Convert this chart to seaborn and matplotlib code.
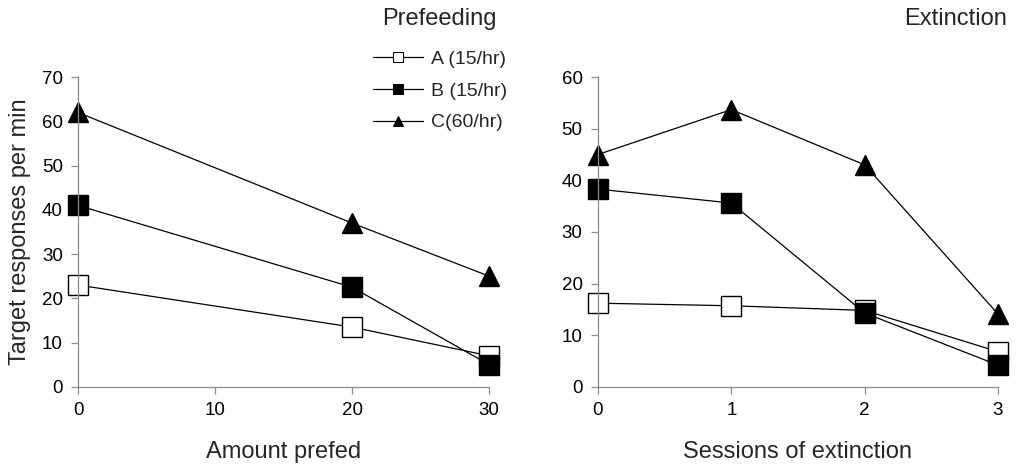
import matplotlib
matplotlib.use("Agg")
import matplotlib.pyplot as plt
import seaborn as sns
import pandas as pd

# prefeeding panel
prefed_amount = [0, 20, 30]
prefed_a = [23, 13.5, 7]
prefed_b = [41, 22.5, 5]
prefed_c = [62, 37, 25]

# extinction panel
ext_sessions = [0, 1, 2, 3]
ext_a = [16.2, 15.7, 14.8, 6.8]
ext_b = [38.3, 35.6, 14.3, 4.2]
ext_c = [45, 53.7, 43, 14.1]

groups = ["A (15/hr)", "B (15/hr)", "C(60/hr)"]


def long_table(x, series):
    rows = []
    for name, vals in zip(groups, series):
        for xi, yi in zip(x, vals):
            rows.append({"x": xi, "y": yi, "group": name})
    return pd.DataFrame(rows)


sns.set_style("ticks")
plt.rcParams["font.family"] = ["Liberation Sans", "DejaVu Sans"]

fig = plt.figure(figsize=(10.31, 4.70), dpi=100)
ax1 = fig.add_axes([0.0757, 0.177, 0.3987, 0.659])
ax2 = fig.add_axes([0.580, 0.177, 0.388, 0.659])

markers = {groups[0]: "s", groups[1]: "s", groups[2]: "^"}
palette = {g: "black" for g in groups}


def draw(ax, df):
    sns.lineplot(data=df, x="x", y="y", hue="group", style="group",
                 markers=markers, dashes=False, palette=palette, ax=ax,
                 linewidth=0.9, markersize=14, legend=True)
    for i, line in enumerate(ax.lines[:3]):
        line.set_markeredgecolor("black")
        line.set_markeredgewidth(1.0)
        line.set_markerfacecolor("white" if i == 0 else "black")
        line.set_clip_on(False)


df1 = long_table(prefed_amount, [prefed_a, prefed_b, prefed_c])
df2 = long_table(ext_sessions, [ext_a, ext_b, ext_c])

draw(ax1, df1)
draw(ax2, df2)

for ax in (ax1, ax2):
    sns.despine(ax=ax)
    for s in ("left", "bottom"):
        ax.spines[s].set_color("#8c8c8c")
        ax.spines[s].set_linewidth(0.9)
    ax.tick_params(colors="#8c8c8c", labelcolor="black", labelsize=13.5,
                   length=5, width=0.9, pad=6)
    ax.set_ylabel("")

ax1.set_xlim(0, 30)
ax1.set_ylim(0, 70)
ax1.set_xticks([0, 10, 20, 30])
ax1.set_yticks(range(0, 71, 10))
ax1.set_xlabel("Amount prefed", fontsize=17, labelpad=16)
ax1.set_ylabel("Target responses per min", fontsize=17, labelpad=8)

ax2.set_xlim(0, 3)
ax2.set_ylim(0, 60)
ax2.set_xticks([0, 1, 2, 3])
ax2.set_yticks(range(0, 61, 10))
ax2.set_xlabel("Sessions of extinction", fontsize=17, labelpad=16)

fig.text(497 / 1031, 1 - 19 / 470, "Prefeeding", fontsize=17, ha="right", va="center")
fig.text(1007 / 1031, 1 - 19 / 470, "Extinction", fontsize=17, ha="right", va="center")

ax2.get_legend().remove()
handles, labels = ax1.get_legend_handles_labels()
leg = fig.legend(handles, labels, loc="upper left",
                 bbox_to_anchor=(355 / 1031, 1 - 33 / 470),
                 frameon=False, fontsize=14, handlelength=2.6, handletextpad=0.4,
                 labelspacing=0.72, markerscale=0.5)
ax1.get_legend().remove()
for i, h in enumerate(leg.legend_handles):
    h.set_color("black")
    h.set_markeredgecolor("black")
    h.set_linewidth(0.9)
    h.set_markerfacecolor("white" if i == 0 else "black")

fig.savefig("out.png", dpi=100)
